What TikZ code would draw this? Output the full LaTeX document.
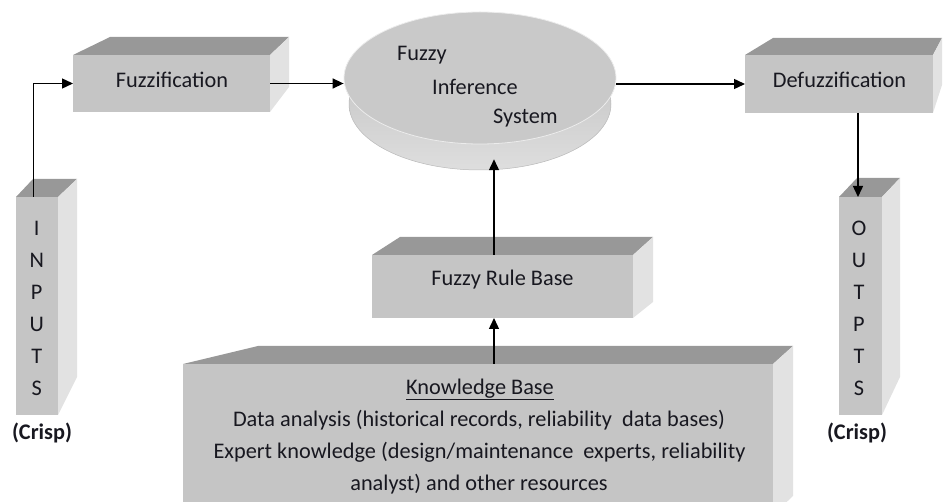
\documentclass[tikz,border=0pt]{standalone}
\usepackage{fontspec}
\setmainfont{Carlito}
\usetikzlibrary{arrows.meta,shapes.geometric}
\definecolor{frontgray}{RGB}{197,197,197}
\definecolor{topgray}{RGB}{152,152,152}
\definecolor{sidegray}{RGB}{226,226,226}
\definecolor{inkcol}{RGB}{24,24,32}
\definecolor{discgray}{RGB}{201,201,201}
\definecolor{bandtop}{RGB}{190,190,190}
\definecolor{bandbot}{RGB}{222,222,222}
\begin{document}
\begin{tikzpicture}[x=1pt,y=-1pt,
  face/.style={fill=frontgray,draw=none,inner sep=0pt,outer sep=0pt},
  topface/.style={fill=topgray},
  sideface/.style={fill=sidegray},
  lbl/.style={font=\fontsize{22.3}{31.5}\selectfont,text=inkcol,inner sep=0pt},
  crisp/.style={font=\fontsize{22.3}{26}\selectfont\bfseries,text=inkcol,inner sep=0pt},
  conn/.style={line width=1.4pt,-{Triangle[length=11pt,width=10pt]}},
]
\useasboundingbox (0,0) rectangle (943,502);
\clip (0,0) rectangle (943,502);

% ---- Fuzzification block
\node[face,minimum width=197pt,minimum height=57pt] (fuzz) at (171.5,83.5) {};
\fill[topface] (fuzz.north west) -- (fuzz.north east) -- (289,37) -- (110,37) -- cycle;
\fill[sideface] (fuzz.north east) -- (289,37) -- (289,87) -- (fuzz.south east) -- cycle;
\node[lbl] (fuzzt) at (172,80) {Fuzzification};

% ---- Defuzzification block
\node[face,minimum width=188pt,minimum height=58pt] (defuzz) at (839,84) {};
\fill[topface] (defuzz.north west) -- (defuzz.north east) -- (942,38) -- (773,38) -- cycle;
\fill[sideface] (defuzz.north east) -- (942,38) -- (942,85) -- (defuzz.south east) -- cycle;
\node[lbl] (defuzzt) at (839.5,80) {Defuzzification};

% ---- Inputs column
\node[face,minimum width=42pt,minimum height=218pt] (ins) at (37,306) {};
\fill[topface] (ins.north west) -- (ins.north east) -- (77,179) -- (33,179) -- cycle;
\fill[sideface] (ins.north east) -- (77,179) -- (77,377) -- (ins.south east) -- cycle;
\foreach \ch [count=\i] in {I,N,P,U,T,S}
  \node[lbl] (inl\i) at (36.7,196+32*\i) {\ch};
\node[crisp] (incrisp) at (42,433) {(Crisp)};

% ---- Outputs column
\node[face,minimum width=43pt,minimum height=218pt] (outs) at (860.5,306) {};
\fill[topface] (outs.north west) -- (outs.north east) -- (900,178) -- (857,178) -- cycle;
\fill[sideface] (outs.north east) -- (900,178) -- (900,377) -- (outs.south east) -- cycle;
\foreach \ch [count=\i] in {O,U,T,P,T,S}
  \node[lbl] (outl\i) at (859,196+32*\i) {\ch};
\node[crisp] (outcrisp) at (857,433) {(Crisp)};

% ---- Fuzzy rule base block
\node[face,minimum width=261pt,minimum height=63pt] (rb) at (502.5,286.5) {};
\fill[topface] (rb.north west) -- (rb.north east) -- (653,237) -- (400,237) -- cycle;
\fill[sideface] (rb.north east) -- (653,237) -- (653,302) -- (rb.south east) -- cycle;
\node[lbl] (rbt) at (502.5,280) {Fuzzy Rule Base};

% ---- Knowledge base block
\node[face,minimum width=590pt,minimum height=151pt] (kb) at (478,439.5) {};
\fill[topface] (kb.north west) -- (kb.north east) -- (793,346) -- (258,346) -- cycle;
\fill[sideface] (kb.north east) -- (793,346) -- (793,496) -- (kb.south east) -- cycle;
\node[lbl,anchor=base] (kbt) at (480,395) {Knowledge Base};
\draw[inkcol,line width=0.9pt] ([yshift=-4pt]kbt.base west) -- ([yshift=-4pt]kbt.base east);
\node[lbl,anchor=base] (kb1) at (479,427) {Data analysis (historical records, reliability\ \ data bases)};
\node[lbl,anchor=base] (kb2) at (479.5,458.5) {Expert knowledge (design/maintenance\ \ experts, reliability};
\node[lbl,anchor=base] (kb3) at (479,490) {analyst) and other resources};

% ---- Fuzzy inference system disc
\node[ellipse,inner sep=0pt,minimum width=262pt,minimum height=132pt,
      top color=bandtop,bottom color=bandbot,draw=gray!55,line width=0.5pt] (fisside) at (480,104) {};
\node[ellipse,inner sep=0pt,minimum width=272pt,minimum height=132pt,
      fill=discgray,draw=white!85!gray,line width=0.8pt] (fis) at (480,78) {};
\node[lbl,anchor=west] (fist1) at (397,55) {Fuzzy};
\node[lbl,anchor=west] (fist2) at (432,87) {Inference};
\node[lbl,anchor=west] (fist3) at (493,118) {System};

% ---- Connectors
\coordinate (inx) at (33.5,0);
\coordinate (outx) at (858,0);
\coordinate (upx) at (494,0);
\draw[conn] (ins.north -| inx) |- (fuzz.west);
\draw[conn] (fuzz.east) -- (fuzz.east -| fis.west);
\draw[conn] (defuzz.west -| fis.east) -- (defuzz.west);
\draw[conn] (defuzz.south -| outx) -- (outs.north -| outx);
\draw[conn] (rb.north -| upx) -- ([yshift=11pt]fisside.south -| upx);
\draw[conn] (kb.north -| upx) -- (rb.south -| upx);
\end{tikzpicture}
\end{document}
